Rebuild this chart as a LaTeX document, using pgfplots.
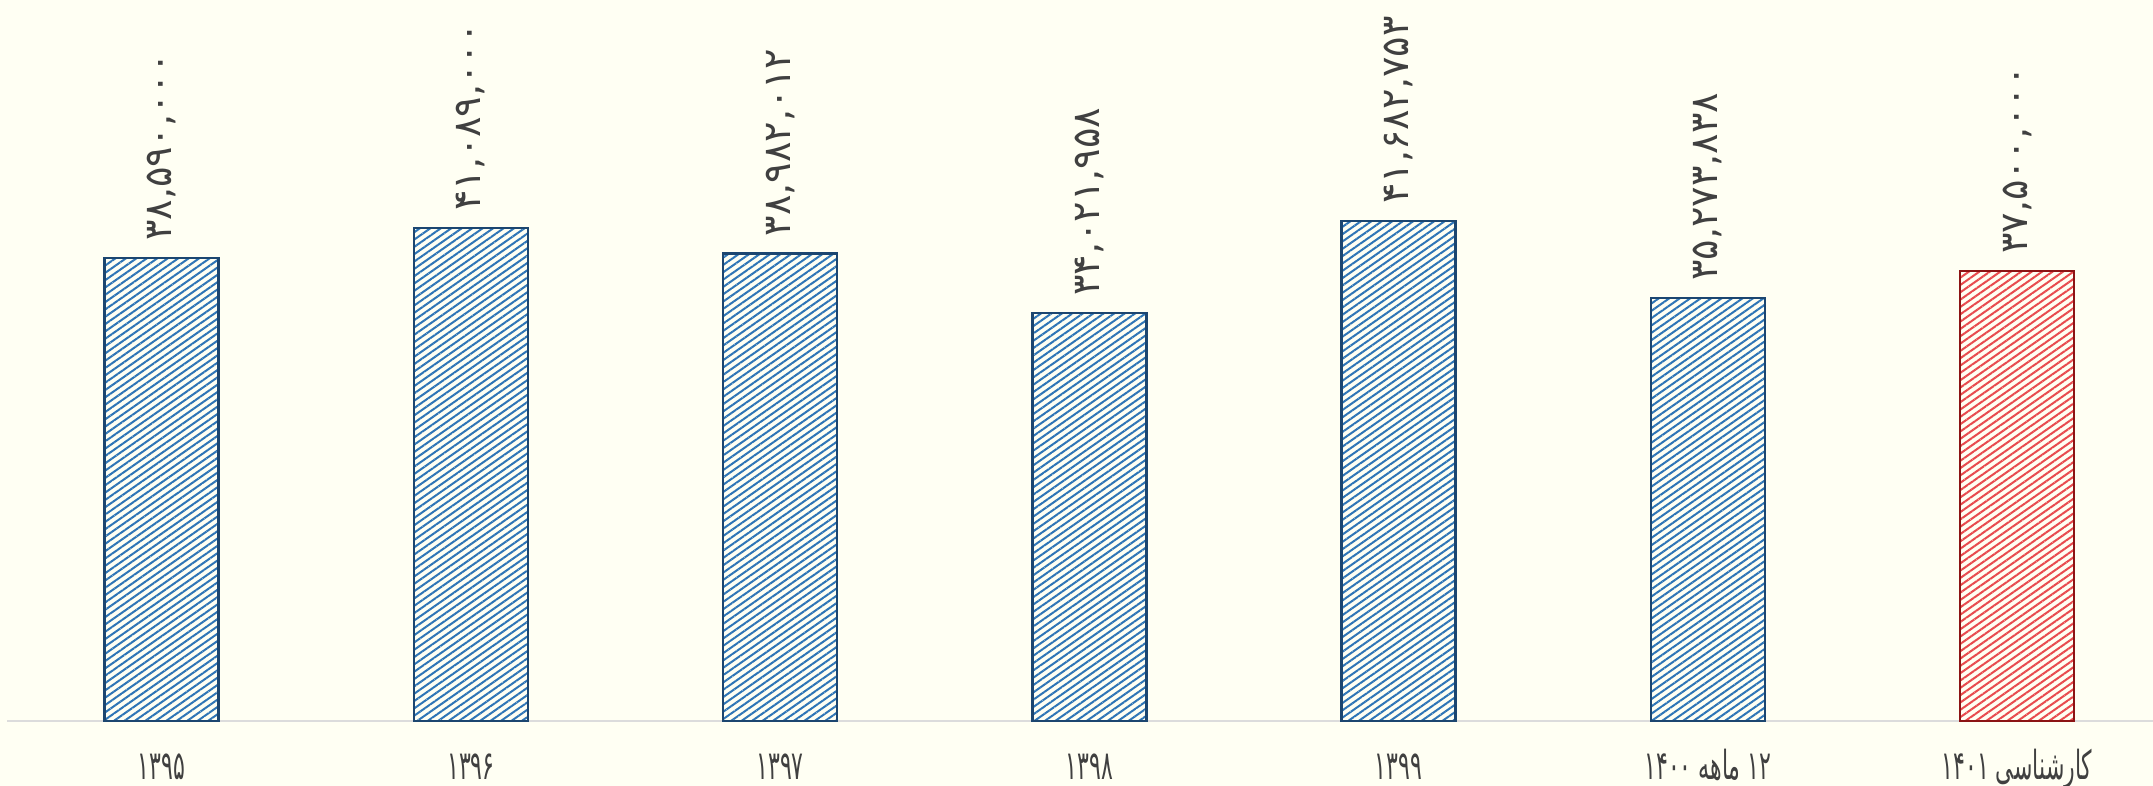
\documentclass[border=0pt]{standalone}
\usepackage{pgfplots}
\pgfplotsset{compat=1.18}
\usetikzlibrary{patterns.meta}
\usepackage{fontspec}
\TeXXeTstate=1
\newfontfamily\vfont[Script=Arabic]{DejaVu Sans}
\newfontfamily\xfont[Script=Arabic,FakeStretch=0.55]{DejaVu Sans}
\definecolor{bg}{RGB}{255,255,243}
\definecolor{hatchblue}{RGB}{46,117,182}
\definecolor{borderblue}{RGB}{28,70,112}
\definecolor{hatchred}{RGB}{232,75,78}
\definecolor{borderred}{RGB}{140,20,20}
\definecolor{axisgray}{RGB}{220,220,220}
\definecolor{textgray}{RGB}{64,64,64}
\begin{document}
\begin{tikzpicture}
\fill[bg] (-3.5pt,-32.5pt) rectangle (1073pt,360.5pt);
\begin{axis}[
  at={(0pt,0pt)}, anchor=south west,
  scale only axis, width=1073pt, height=360.5pt,
  ybar, bar width=57pt,
  xmin=-0.5, xmax=6.44, ymin=0, ymax=60.1e6,
  enlargelimits=false,
  axis x line=bottom, axis y line=none,
  x axis line style={-, draw=axisgray, line width=1.2pt},
  xtick={0,...,6}, major tick length=0pt,
  xticklabels={۱۳۹۵,۱۳۹۶,۱۳۹۷,۱۳۹۸,۱۳۹۹,{\beginR ۱۲ ماهه ۱۴۰۰\endR},{\beginR کارشناسی ۱۴۰۱\endR}},
  xticklabel style={font=\xfont\fontsize{20pt}{22pt}\selectfont, text=textgray, anchor=base, yshift=-29.5pt},
  ytick=\empty,
  clip=false,
  point meta=explicit symbolic,
  nodes near coords,
  nodes near coords style={yshift=8pt, rotate=90, anchor=west, inner sep=0pt, font=\vfont\fontsize{19pt}{21pt}\selectfont, text=textgray},
]
\addplot[bar shift=0pt, draw=borderblue, line width=1.3pt, pattern={Lines[angle=35,distance=3pt,line width=1pt]}, pattern color=hatchblue]
coordinates {
 (0,38590000) [۳۸,۵۹۰,۰۰۰]
 (1,41089000) [۴۱,۰۸۹,۰۰۰]
 (2,38982012) [۳۸,۹۸۲,۰۱۲]
 (3,34021958) [۳۴,۰۲۱,۹۵۸]
 (4,41682753) [۴۱,۶۸۲,۷۵۳]
 (5,35273838) [۳۵,۲۷۳,۸۳۸]
};
\addplot[bar shift=0pt, draw=borderred, line width=1.3pt, pattern={Lines[angle=35,distance=3pt,line width=1pt]}, pattern color=hatchred]
coordinates {
 (6,37500000) [۳۷,۵۰۰,۰۰۰]
};
\end{axis}
\pgfresetboundingbox
\useasboundingbox (-3.5pt,-32.5pt) rectangle (1073pt,360.5pt);
\end{tikzpicture}
\end{document}
